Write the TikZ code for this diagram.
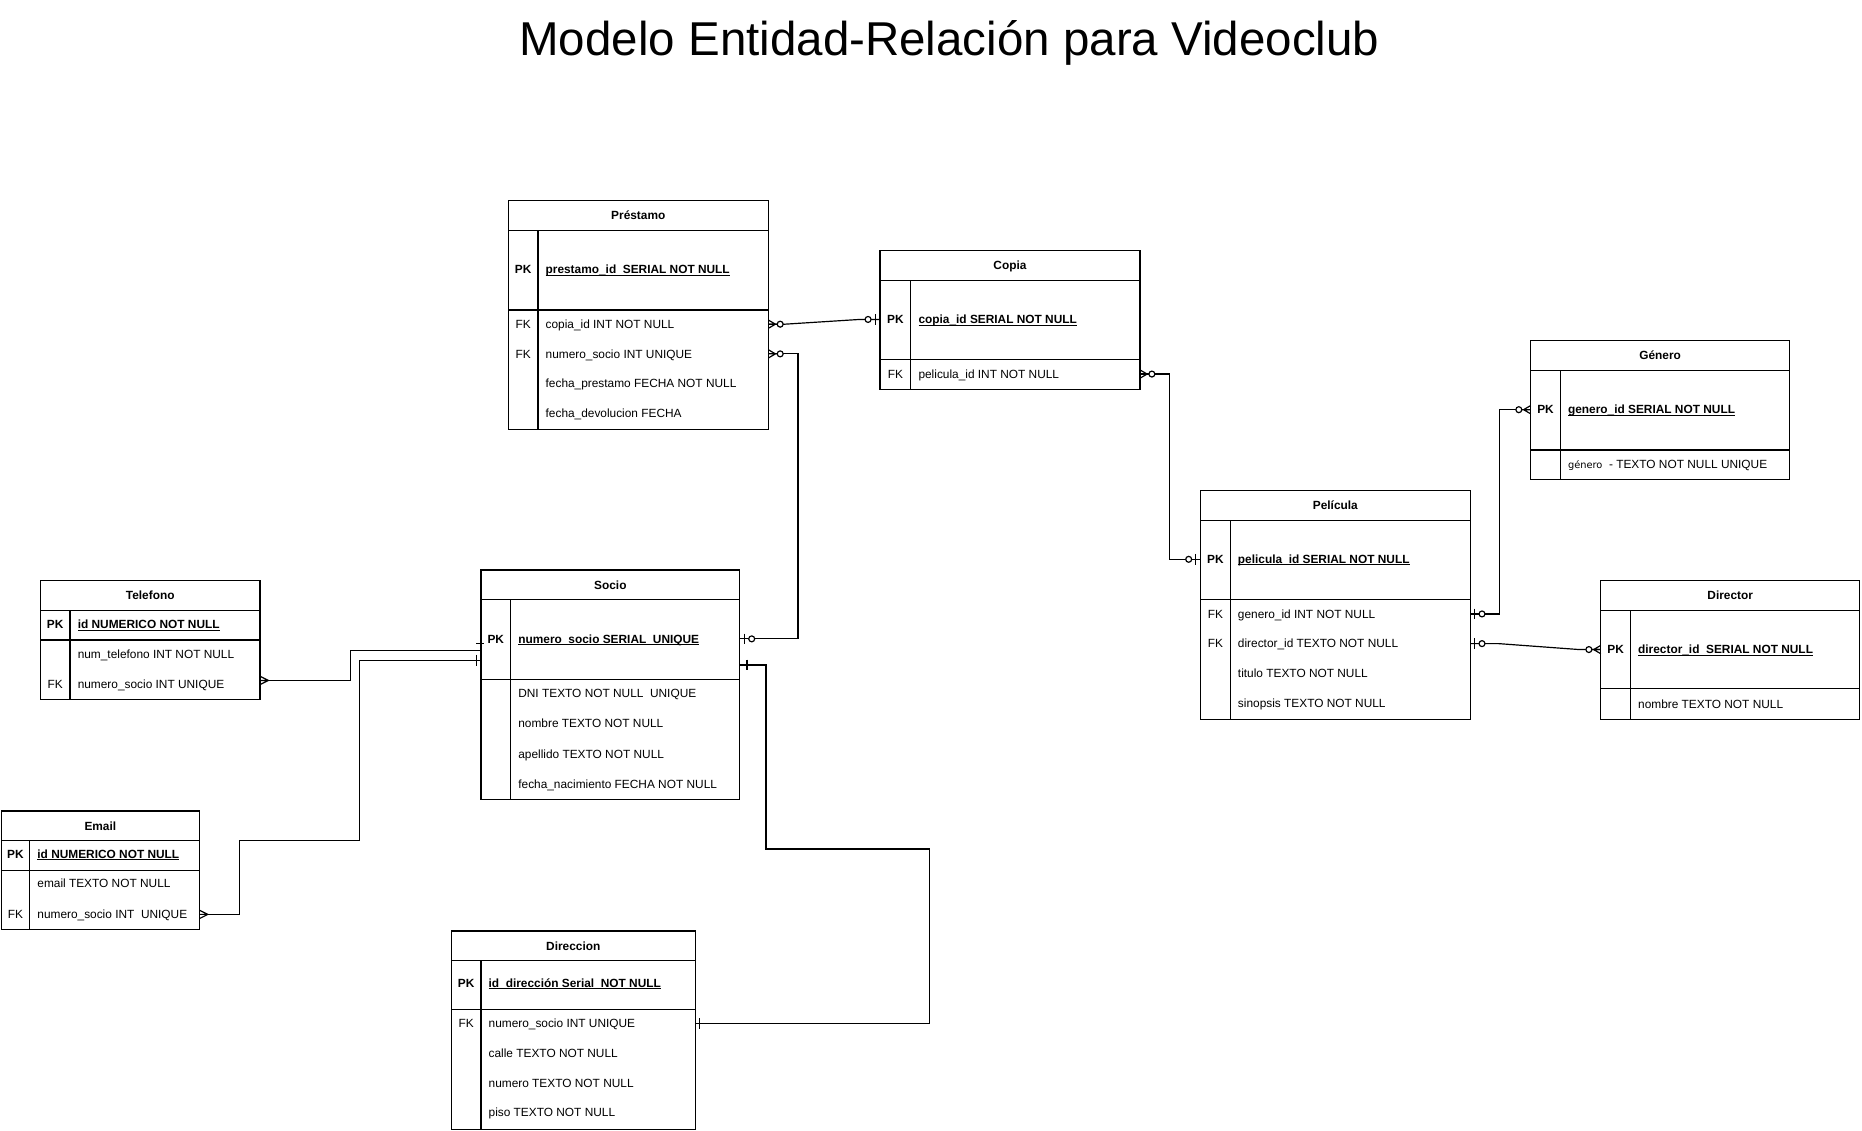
\documentclass[tikz,border=0pt]{standalone}
\usepackage{fontspec}
\setmainfont{Liberation Sans}
\newfontfamily\gfont{DejaVu Sans}
\usetikzlibrary{calc}
\newsavebox\ulbox
\newcommand\ulpk[1]{\sbox\ulbox{#1}\rlap{\rule[-1.1pt]{\wd\ulbox}{0.55pt}}\usebox\ulbox}
\newcommand\pkf[1]{\ulpk{\bfseries #1}}
\tikzset{
  tab/.style={draw, inner sep=0pt, outer sep=0pt, anchor=north west},
  txt/.style={font=\fontsize{7.5pt}{9pt}\selectfont, inner sep=0pt, outer sep=0pt, text height=5.4pt, text depth=0pt},
  hdr/.style={txt, font=\fontsize{7.5pt}{9pt}\selectfont\bfseries},
  keylab/.style={txt},
  fld/.style={txt, anchor=west},
  pics/zmany/.style={code={\draw (0,0) -- (7.5,0) (0,-3.5) -- (6,0) -- (0,3.5); \draw[fill=white] (10,0) circle (2.5);}},
  pics/zone/.style={code={\draw (0,0) -- (7.5,0) (4,-4.5) -- (4,4.5); \draw[fill=white] (10,0) circle (2.5);}},
  pics/many/.style={code={\draw (0,0) -- (7,0) (0,-3.5) -- (7,0) -- (0,3.5);}},
  pics/one/.style={code={\draw (0,0) -- (#1,0) (#1,-4.5) -- (#1,4.5);}},
}
% #1 name, #2 x, #3 y, #4 width, #5 height, #6 pk-row bottom offset, #7 divider offset, #8 title
\newcommand\ertab[8]{%
  \node[tab, minimum width=#4*0.75pt, minimum height=#5*0.75pt] (#1) at (#2,#3) {};
  \draw (#2,#3+25) -- (#2+#4,#3+25) (#2,#3+#6) -- (#2+#4,#3+#6) (#2+#7,#3+25) -- (#2+#7,#3+#5);
  \node[hdr] (#1-h) at (#2+#4/2,#3+12.5) {#8};
}
% #1 name, #2 table x, #3 divider offset, #4 y, #5 key label, #6 text
\newcommand\errow[6]{%
  \node[keylab] (#1k) at (#2+#3/2,#4) {#5};
  \node[fld] (#1) at (#2+#3+6.5,#4) {#6};
}
\begin{document}
\begin{tikzpicture}[x=0.75pt,y=-0.75pt,line width=0.75pt]
\fill[white] (0,0) rectangle (1568,952.4);
\useasboundingbox (0,0) rectangle (1568,952.4);

\node[font=\fontsize{30pt}{36pt}\selectfont, anchor=base, inner sep=0pt] (title) at (799.5,47) {Modelo Entidad-Relación para Videoclub};

% tables
\ertab{pr}{428}{169}{219}{193}{92}{25}{Préstamo}
\errow{pr-pk}{428}{25}{227}{\bfseries PK}{\pkf{prestamo\_id\ \ SERIAL NOT NULL}}
\errow{pr-1}{428}{25}{273}{FK}{copia\_id INT NOT NULL}
\errow{pr-2}{428}{25}{298}{FK}{numero\_socio INT UNIQUE}
\errow{pr-3}{428}{25}{323}{}{fecha\_prestamo FECHA NOT NULL}
\errow{pr-4}{428}{25}{348}{}{fecha\_devolucion FECHA}

\ertab{co}{741}{211}{219}{117}{92}{26}{Copia}
\errow{co-pk}{741}{26}{269}{\bfseries PK}{\pkf{copia\_id SERIAL NOT NULL}}
\errow{co-1}{741}{26}{315}{FK}{pelicula\_id INT NOT NULL}

\ertab{ge}{1289}{287}{218}{117}{92}{25}{Género}
\errow{ge-pk}{1289}{25}{345}{\bfseries PK}{\pkf{genero\_id SERIAL NOT NULL}}
\errow{ge-1}{1289}{25}{391}{}{{\gfont\fontsize{6.2pt}{7pt}\selectfont género}\ \ - TEXTO NOT NULL UNIQUE}

\ertab{pe}{1011}{413}{227}{193}{92}{25}{Película}
\errow{pe-pk}{1011}{25}{471}{\bfseries PK}{\pkf{pelicula\_id SERIAL NOT NULL}}
\errow{pe-1}{1011}{25}{517}{FK}{genero\_id INT NOT NULL}
\errow{pe-2}{1011}{25}{542}{FK}{director\_id TEXTO NOT NULL}
\errow{pe-3}{1011}{25}{567}{}{titulo TEXTO NOT NULL}
\errow{pe-4}{1011}{25}{592}{}{sinopsis TEXTO NOT NULL}

\ertab{di}{1348}{489}{218}{117}{91}{25}{Director}
\errow{di-pk}{1348}{25}{547}{\bfseries PK}{\pkf{director\_id\ \ SERIAL NOT NULL}}
\errow{di-1}{1348}{25}{593}{}{nombre TEXTO NOT NULL}

\ertab{te}{34}{489}{185}{100}{50}{25}{Telefono}
\errow{te-pk}{34}{25}{526}{\bfseries PK}{\pkf{id NUMERICO NOT NULL}}
\errow{te-1}{34}{25}{551}{}{num\_telefono INT NOT NULL}
\errow{te-2}{34}{25}{576}{FK}{numero\_socio INT UNIQUE}

\ertab{so}{405}{480}{218}{193}{92}{25}{Socio}
\errow{so-pk}{405}{25}{538}{\bfseries PK}{\pkf{numero\_socio SERIAL\ \ UNIQUE}}
\errow{so-1}{405}{25}{584}{}{DNI TEXTO NOT NULL\ \ UNIQUE}
\errow{so-2}{405}{25}{609}{}{nombre TEXTO NOT NULL}
\errow{so-3}{405}{25}{635}{}{apellido TEXTO NOT NULL}
\errow{so-4}{405}{25}{660}{}{fecha\_nacimiento FECHA NOT NULL}

\ertab{em}{1}{683}{167}{100}{50}{24}{Email}
\errow{em-pk}{1}{24}{719}{\bfseries PK}{\pkf{id NUMERICO NOT NULL}}
\errow{em-1}{1}{24}{744}{}{email TEXTO NOT NULL}
\errow{em-2}{1}{24}{770}{FK}{numero\_socio INT\ \ UNIQUE}

\ertab{dr}{380}{784}{205.5}{167}{66}{25}{Direccion}
\errow{dr-pk}{380}{25}{828}{\bfseries PK}{\pkf{id\_dirección Serial\ \ NOT NULL}}
\errow{dr-1}{380}{25}{862}{FK}{numero\_socio INT UNIQUE}
\errow{dr-2}{380}{25}{887}{}{calle TEXTO NOT NULL}
\errow{dr-3}{380}{25}{912}{}{numero TEXTO NOT NULL}
\errow{dr-4}{380}{25}{937}{}{piso TEXTO NOT NULL}

% connection points
\coordinate (pr-1E) at (pr-1 -| pr.east);
\coordinate (pr-2E) at (pr-2 -| pr.east);
\coordinate (co-pkW) at (co-pk -| co.west);
\coordinate (co-1E) at (co-1 -| co.east);
\coordinate (pe-pkW) at (pe-pk -| pe.west);
\coordinate (pe-1E) at (pe-1 -| pe.east);
\coordinate (pe-2E) at (pe-2 -| pe.east);
\coordinate (ge-pkW) at (ge-pk -| ge.west);
\coordinate (di-pkW) at (di-pk -| di.west);
\coordinate (so-pkE) at (so-pk -| so.east);
\coordinate (so-pkW) at (so-pk -| so.west);
\coordinate (te-2E0) at (te-2 -| te.east);
\coordinate (te-2E) at ([yshift=2.25pt]te-2E0);
\coordinate (em-2E) at (em-2 -| em.east);
\coordinate (dr-1E) at (dr-1 -| dr.east);
\coordinate (so-teW) at ([yshift=-7.5pt]so-pkW);
\coordinate (so-emW) at ([yshift=-13.5pt]so-pkW);
\coordinate (so-drE) at ([yshift=-16.5pt]so-pkE);

% connectors
\draw (pr-1E) -- ++(14,0) -- ([xshift=-12.75pt]co-pkW) -- (co-pkW);
\draw (pr-2E) -- ++(25,0) |- (so-pkE);
\draw (co-1E) -- ++(25,0) |- (pe-pkW);
\draw (pe-1E) -- ++(25,0) |- (ge-pkW);
\draw (pe-2E) -- ++(24,0) -- ([xshift=-13.5pt]di-pkW) -- (di-pkW);
\draw (te-2E) -- ++(76,0) |- (so-teW);
\draw (em-2E) -- ++(34,0) -- ++(0,-62) -- ++(101,0) |- (so-emW);
\draw (so-drE) -- ++(22,0) -- ++(0,155) -- ++(138,0) |- (dr-1E);
\draw ([xshift=-3pt,yshift=-3pt]so-pkW) -- ++(6.5,0);

% markers
\pic at (pr-1E) {zmany};
\pic at (pr-2E) {zmany};
\pic[xscale=-1] at (co-pkW) {zone};
\pic at (so-pkE) {zone};
\pic at (co-1E) {zmany};
\pic[xscale=-1] at (pe-pkW) {zone};
\pic at (pe-1E) {zone};
\pic[xscale=-1] at (ge-pkW) {zmany};
\pic at (pe-2E) {zone};
\pic[xscale=-1] at (di-pkW) {zmany};
\pic at (te-2E) {many};
\pic at (em-2E) {many};
\pic[xscale=-1] at (so-emW) {one=4};
\pic at (so-drE) {one=6};
\pic at (dr-1E) {one=3.5};
\end{tikzpicture}
\end{document}
